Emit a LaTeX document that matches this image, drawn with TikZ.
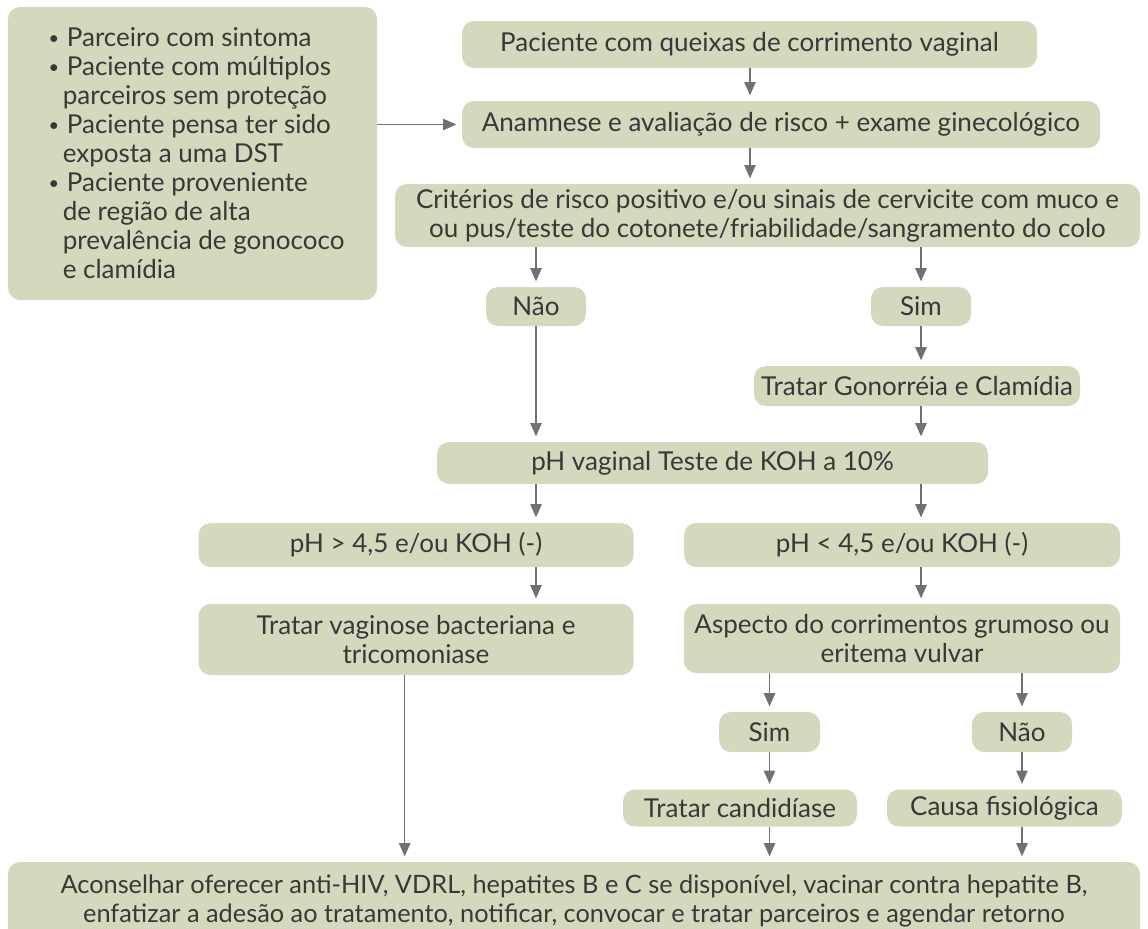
\documentclass[tikz,border=0pt]{standalone}
\usepackage{fontspec}
\setmainfont{Lato}
\usetikzlibrary{arrows.meta,calc}
\definecolor{boxc}{HTML}{D5D8BC}
\definecolor{txtc}{HTML}{383838}
\definecolor{arrc}{HTML}{707070}
\newcommand{\mybul}{\hspace*{6pt}\raisebox{0.15ex}{\scalebox{0.7}{\textbullet}}\hspace{0.3em}}
\newcommand{\mycont}{\hspace*{6pt}\hspace{0.55em}}
\tikzset{
  box/.style={fill=boxc, rounded corners=9pt, text=txtc, align=center, inner sep=0pt, font=\fontsize{19.5}{21.75}\selectfont},
  arr/.style={draw=arrc, line width=1.1pt, -{Triangle[length=10pt,width=8.5pt]}, shorten >=4pt}
}
\begin{document}
\begin{tikzpicture}[x=0.75pt,y=-0.75pt]
\clip (0,0) rectangle (1148,928);
\useasboundingbox (0,0) rectangle (1148,928);
\node[box, minimum width=369*0.75pt, minimum height=293*0.75pt, align=left] (left) at (192.5,153.5)
 {\mybul Parceiro com sintoma\\
  \mybul Paciente com múltiplos\\
  \mycont parceiros sem proteção\\
  \mybul Paciente pensa ter sido\\
  \mycont exposta a uma DST\\
  \mybul Paciente proveniente\\
  \mycont de região de alta\\
  \mycont prevalência de gonococo\\
  \mycont e clamídia};
\node[box, minimum width=575*0.75pt, minimum height=47*0.75pt] (b1) at (749.5,44.5) {Paciente com queixas de corrimento vaginal};
\node[box, minimum width=638*0.75pt, minimum height=47*0.75pt] (b2) at (781,124.5) {Anamnese e avaliação de risco + exame ginecológico};
\node[box, minimum width=745*0.75pt, minimum height=63*0.75pt] (b3) at (767.5,215.5) {Critérios de risco positivo e/ou sinais de cervicite com muco e\\ ou pus/teste do cotonete/friabilidade/sangramento do colo};
\node[box, minimum width=100*0.75pt, minimum height=39*0.75pt] (nao1) at (536,306.5) {Não};
\node[box, minimum width=100*0.75pt, minimum height=39*0.75pt] (sim1) at (921,306.5) {Sim};
\node[box, minimum width=326*0.75pt, minimum height=40*0.75pt] (gono) at (917,386) {Tratar Gonorréia e Clamídia};
\node[box, minimum width=551*0.75pt, minimum height=42*0.75pt] (ph) at (712.5,463) {pH vaginal Teste de KOH a 10\%};
\node[box, minimum width=435*0.75pt, minimum height=44*0.75pt] (phgt) at (416,545) {pH > 4,5 e/ou KOH (-)};
\node[box, minimum width=436*0.75pt, minimum height=44*0.75pt] (phlt) at (902,545) {pH < 4,5 e/ou KOH (-)};
\node[box, minimum width=435*0.75pt, minimum height=71*0.75pt] (vag) at (416,639.5) {Tratar vaginose bacteriana e\\ tricomoniase};
\node[box, minimum width=436*0.75pt, minimum height=69*0.75pt] (asp) at (902,638.5) {Aspecto do corrimentos grumoso ou\\ eritema vulvar};
\node[box, minimum width=101*0.75pt, minimum height=40*0.75pt] (sim2) at (769.5,732) {Sim};
\node[box, minimum width=100*0.75pt, minimum height=40*0.75pt] (nao2) at (1022,732) {Não};
\node[box, minimum width=234*0.75pt, minimum height=37*0.75pt] (cand) at (740,808) {Tratar candidíase};
\node[box, minimum width=235*0.75pt, minimum height=37*0.75pt] (causa) at (1004.5,808) {Causa fisiológica};
\node[box, minimum width=1132*0.75pt, minimum height=78*0.75pt, font=\fontsize{19}{21.5}\selectfont] (final) at (574,901) {Aconselhar oferecer anti-HIV, VDRL, hepatites B e C se disponível, vacinar contra hepatite B,\\ enfatizar a adesão ao tratamento, notificar, convocar e tratar parceiros e agendar retorno};
% connectors
\draw[arr] (b1.south -| 750,0) -- (b2.north -| 750,0);
\draw[arr] (left.east |- b2.west) -- (b2.west);
\draw[arr] (b2.south -| 750,0) -- (b3.north -| 750,0);
\draw[arr] (b3.south -| nao1.north) -- (nao1.north);
\draw[arr] (b3.south -| sim1.north) -- (sim1.north);
\draw[arr] (sim1.south) -- (sim1.south |- gono.north);
\draw[arr] (nao1.south) -- (nao1.south |- ph.north);
\draw[arr] (sim1.south |- gono.south) -- (sim1.south |- ph.north);
\draw[arr] (nao1.south |- ph.south) -- (nao1.south |- phgt.north);
\draw[arr] (sim1.south |- ph.south) -- (sim1.south |- phlt.north);
\draw[arr] (nao1.south |- phgt.south) -- (nao1.south |- vag.north);
\draw[arr] (sim1.south |- phlt.south) -- (sim1.south |- asp.north);
\draw[arr] (asp.south -| sim2.north) -- (sim2.north);
\draw[arr] (asp.south -| nao2.north) -- (nao2.north);
\draw[arr] (sim2.south) -- (sim2.south |- cand.north);
\draw[arr] (nao2.south) -- (nao2.south |- causa.north);
\draw[arr] ([xshift=-8.5pt]vag.south) -- ([xshift=-8.5pt]vag.south |- final.north);
\draw[arr] (sim2.south |- cand.south) -- (sim2.south |- final.north);
\draw[arr] (nao2.south |- causa.south) -- (nao2.south |- final.north);
\end{tikzpicture}
\end{document}
